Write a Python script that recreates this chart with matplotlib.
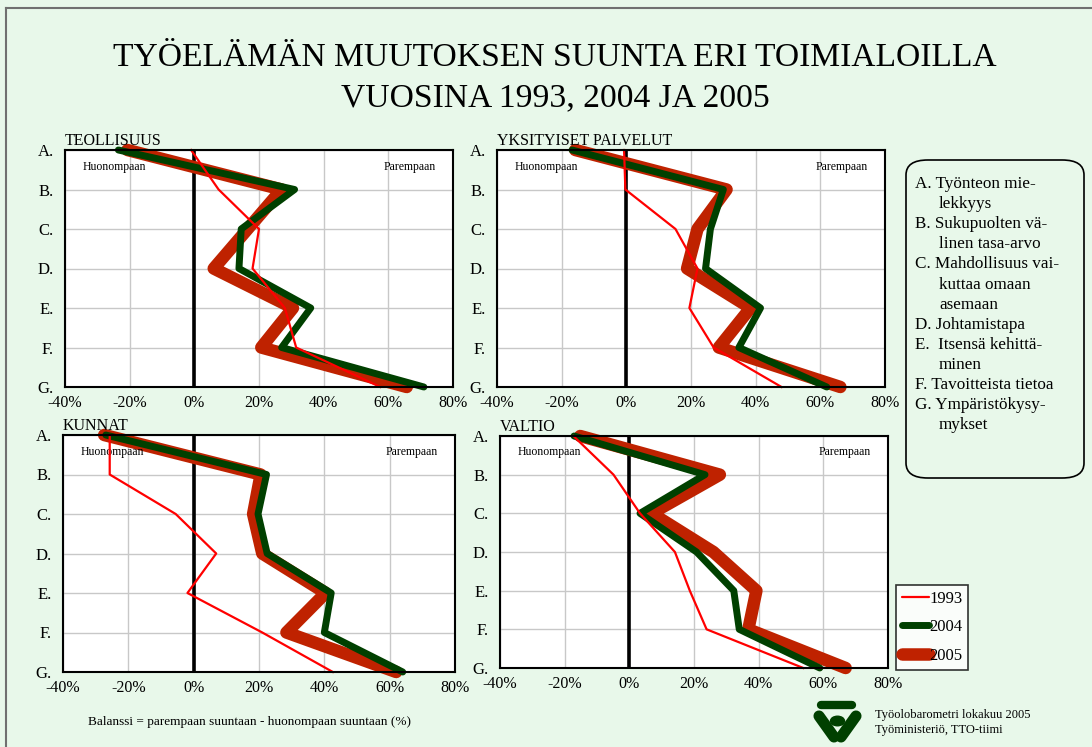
import matplotlib
matplotlib.use("Agg")
import matplotlib.pyplot as plt
from matplotlib.patches import FancyBboxPatch, Circle
from matplotlib.lines import Line2D

plt.rcParams['font.family'] = ['Liberation Serif', 'DejaVu Serif']

# ---- data ----
categories = ["A.", "B.", "C.", "D.", "E.", "F.", "G."]
years = ["1993", "2004", "2005"]
x_ticks = [-40, -20, 0, 20, 40, 60, 80]
x_tick_labels = ["-40%", "-20%", "0%", "20%", "40%", "60%", "80%"]

teollisuus_1993 = [-1, 7.5, 20, 18, 28, 31.5, 57.5]
teollisuus_2004 = [-23.5, 31, 14.5, 13.8, 36, 27, 71]
teollisuus_2005 = [-20.7, 27, 16.5, 6, 30.5, 20.7, 65.7]

palvelut_1993 = [-0.7, -0.3, 15.2, 22, 19.5, 27, 48]
palvelut_2004 = [-16.8, 30, 26, 24.5, 41.5, 34.8, 62]
palvelut_2005 = [-15.8, 31, 22, 18.8, 38.4, 28.6, 66.2]

kunnat_1993 = [-25.7, -25.7, -5.5, 6.9, -1.9, 21, 42.6]
kunnat_2004 = [-26.9, 22.3, 19.7, 22.5, 42.1, 40, 64]
kunnat_2005 = [-27.4, 20.5, 18.2, 21, 40.4, 28.4, 62]

valtio_1993 = [-17.3, -4.9, 3.3, 14.1, 18.7, 23.9, 53.8]
valtio_2004 = [-17.1, 23.4, 3.3, 20.8, 32.3, 34, 58.9]
valtio_2005 = [-15.2, 28, 6.9, 26, 39.3, 36.8, 66.9]

panel_titles = ["TEOLLISUUS", "YKSITYISET PALVELUT", "KUNNAT", "VALTIO"]
panel_data = [
    (teollisuus_1993, teollisuus_2004, teollisuus_2005),
    (palvelut_1993, palvelut_2004, palvelut_2005),
    (kunnat_1993, kunnat_2004, kunnat_2005),
    (valtio_1993, valtio_2004, valtio_2005),
]

explanations = [
    ["A. Työnteon mie-", "lekkyys"],
    ["B. Sukupuolten vä-", "linen tasa-arvo"],
    ["C. Mahdollisuus vai-", "kuttaa omaan", "asemaan"],
    ["D. Johtamistapa"],
    ["E.  Itsensä kehittä-", "minen"],
    ["F. Tavoitteista tietoa"],
    ["G. Ympäristökysy-", "mykset"],
]

# ---- styling ----
W, H = 1092, 747
BG = "#E8F8EA"
C1993 = "#FF0000"
C2004 = "#004000"
C2005 = "#BF2200"
DKGREEN = "#004000"

fig = plt.figure(figsize=(W / 100, H / 100), dpi=100)
fig.patch.set_facecolor(BG)


def px_rect(x0, y0, x1, y1):
    return [x0 / W, 1 - y1 / H, (x1 - x0) / W, (y1 - y0) / H]


def fx(x):
    return x / W


def fy(y):
    return 1 - y / H


# outer border (left + top)
fig.add_artist(Line2D([fx(6), fx(6)], [fy(8), fy(747)], color="#707070", lw=1.5))
fig.add_artist(Line2D([fx(6), fx(1092)], [fy(8), fy(8)], color="#707070", lw=1.5))

# title
fig.text(fx(555), fy(58), "TYÖELÄMÄN MUUTOKSEN SUUNTA ERI TOIMIALOILLA",
         ha="center", va="center", fontsize=24.2)
fig.text(fx(555), fy(98), "VUOSINA 1993, 2004 JA 2005",
         ha="center", va="center", fontsize=24.2)

rects = [
    px_rect(65, 150, 453, 387),
    px_rect(497, 150, 885, 387),
    px_rect(63, 435, 455, 672),
    px_rect(500, 436, 888, 668),
]

ypos = list(range(len(categories)))
for i, (rect, title, (d93, d04, d05)) in enumerate(zip(rects, panel_titles, panel_data)):
    ax = fig.add_axes(rect)
    ax.set_facecolor("white")
    ax.set_xlim(-40, 80)
    ax.set_ylim(len(categories) - 1, 0)
    ax.set_xticks(x_ticks)
    ax.set_xticklabels(x_tick_labels, fontsize=11.5)
    ax.set_yticks(ypos)
    ax.set_yticklabels(categories, fontsize=12)
    ax.tick_params(length=0, pad=6)
    ax.tick_params(axis="y", pad=8)
    ax.grid(True, color="#C8C8C8", lw=1.0, zorder=0)
    ax.set_axisbelow(True)
    for s in ax.spines.values():
        s.set_color("black")
        s.set_linewidth(1.5)
        s.set_zorder(6)
    ax.axvline(0, color="black", lw=2.6, zorder=2)
    ax.plot(d05, ypos, color=C2005, lw=9, solid_capstyle="round",
            solid_joinstyle="round", zorder=3, clip_on=False)
    ax.plot(d04, ypos, color=C2004, lw=5, solid_capstyle="round",
            solid_joinstyle="round", zorder=4, clip_on=False)
    ax.plot(d93, ypos, color=C1993, lw=1.6, zorder=5, clip_on=False)
    ax.text(0.0, 1.005, title, transform=ax.transAxes, ha="left", va="bottom",
            fontsize=11.5)
    ax.text(0.045, 0.93, "Huonompaan", transform=ax.transAxes, ha="left",
            va="center", fontsize=8.5)
    ax.text(0.955, 0.93, "Parempaan", transform=ax.transAxes, ha="right",
            va="center", fontsize=8.5)

handles = [
    Line2D([], [], color=C1993, lw=1.6, solid_capstyle="round"),
    Line2D([], [], color=C2004, lw=5, solid_capstyle="round"),
    Line2D([], [], color=C2005, lw=9, solid_capstyle="round"),
]
leg = fig.legend(handles, years, loc="upper left",
                 bbox_to_anchor=(fx(896), fy(585)),
                 frameon=True, fancybox=False, fontsize=12,
                 handlelength=1.6, handletextpad=0.05,
                 borderpad=0.35, labelspacing=0.75,
                 borderaxespad=0)
leg.get_frame().set_edgecolor("black")
leg.get_frame().set_linewidth(1.2)
leg.get_frame().set_facecolor("white")

# explanation box
box = FancyBboxPatch((fx(906), fy(478)), fx(1084) - fx(906), fy(160) - fy(478),
                     boxstyle="round,pad=0,rounding_size=0.02",
                     transform=fig.transFigure, facecolor=BG,
                     edgecolor="black", lw=1.2)
fig.add_artist(box)
y = 184
lh = 20.1
for lines in explanations:
    for k, ln in enumerate(lines):
        xoff = 915 if k == 0 else 939
        fig.text(fx(xoff), fy(y), ln, ha="left", va="center", fontsize=12.3)
        y += lh

# footer
fig.text(fx(88), fy(722), "Balanssi = parempaan suuntaan - huonompaan suuntaan (%)",
         ha="left", va="center", fontsize=9.5)
fig.text(fx(875), fy(715), "Työolobarometri lokakuu 2005", ha="left",
         va="center", fontsize=9)
fig.text(fx(875), fy(730), "Työministeriö, TTO-tiimi", ha="left",
         va="center", fontsize=9)

# logo
fig.add_artist(Line2D([fx(821), fx(852)], [fy(704.5), fy(704.5)], color=DKGREEN,
                      lw=6, solid_capstyle="round"))
fig.add_artist(Line2D([fx(819), fx(834)], [fy(716), fy(737)], color=DKGREEN,
                      lw=8, solid_capstyle="round"))
fig.add_artist(Line2D([fx(856), fx(841)], [fy(716), fy(737)], color=DKGREEN,
                      lw=8, solid_capstyle="round"))
fig.add_artist(Circle((fx(837.5), fy(721)), 7 / W, transform=fig.transFigure,
                      color=DKGREEN))

fig.savefig("out.png", dpi=100, facecolor=BG)
